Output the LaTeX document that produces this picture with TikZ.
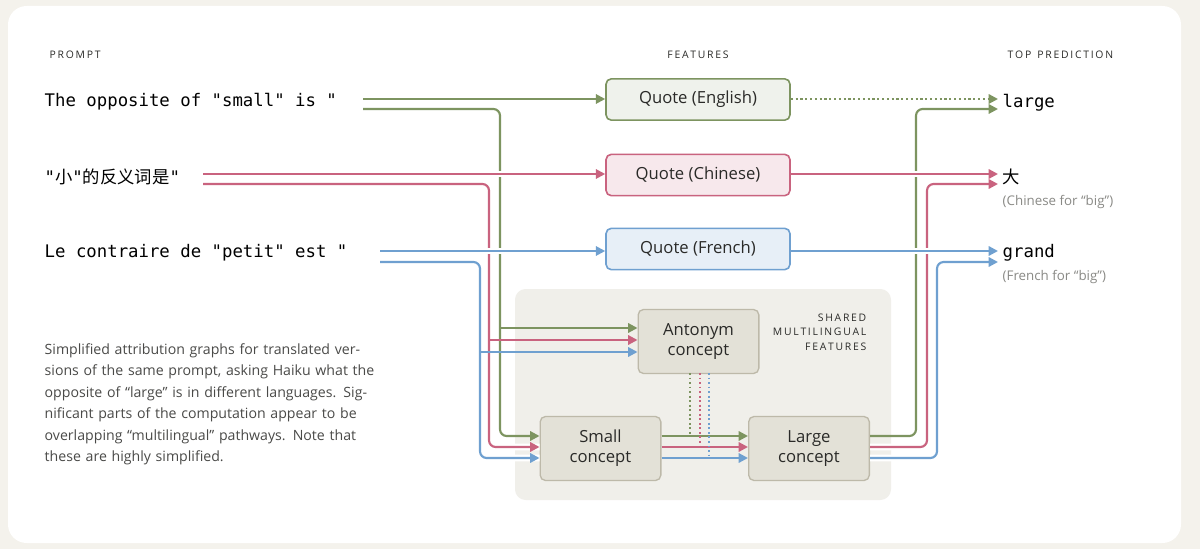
\documentclass[tikz,border=0pt]{standalone}
\usepackage{fontspec}
\setmainfont{Open Sans}
\newfontfamily\mono{DejaVu Sans Mono}
\newfontfamily\cjk{Noto Sans CJK SC}
\usetikzlibrary{arrows.meta}
\definecolor{gC}{HTML}{7D9460}
\definecolor{pC}{HTML}{C9637F}
\definecolor{bC}{HTML}{6FA0D0}
\definecolor{bgO}{HTML}{F4F2EC}
\definecolor{shared}{HTML}{F0EFEA}
\definecolor{conc}{HTML}{E3E1D7}
\definecolor{concB}{HTML}{BDB9A9}
\definecolor{txt}{HTML}{2A2A28}
\definecolor{grayT}{HTML}{8A8A86}
\tikzset{
 ln/.style={line width=1.6pt, rounded corners=5pt, -{Triangle[length=7pt,width=7pt]}},
 g/.style={ln, draw=gC}, p/.style={ln, draw=pC}, b/.style={ln, draw=bC},
 gap/.style={preaction={draw=white, line width=5pt, -}},
 quote/.style={rounded corners=4pt, line width=1.2pt, minimum width=138pt, minimum height=31pt, font=\fontsize{12.5}{14}\selectfont, text=txt},
 concept/.style={rounded corners=4pt, line width=1pt, draw=concB, fill=conc, minimum width=90.5pt, minimum height=48pt, align=center, font=\fontsize{12.5}{15}\selectfont, text=txt},
 hdr/.style={font=\fontsize{7.8}{9}\selectfont, text=txt, anchor=west},
 prm/.style={font=\mono\fontsize{13}{15}\selectfont, text=black, anchor=west},
 outp/.style={font=\mono\fontsize{13}{15}\selectfont, text=black, anchor=west},
 sub/.style={font=\fontsize{10}{12}\selectfont, text=grayT, anchor=west},
}
\begin{document}
\begin{tikzpicture}[x=0.75pt,y=-0.75pt]
\useasboundingbox (0,0) rectangle (1200,549);
\fill[bgO] (0,0) rectangle (1200,549);
\fill[white, rounded corners=14pt] (8,6) rectangle (1181,543);
\fill[shared, rounded corners=8pt] (515,289) rectangle (891,500);
\node[align=right, anchor=north east, font=\fontsize{7.8}{11}\selectfont, text=txt] (sh) at (871,309) {S\,H\,A\,R\,E\,D\\M\,U\,L\,T\,I\,L\,I\,N\,G\,U\,A\,L\\F\,E\,A\,T\,U\,R\,E\,S};

% headers
\node[hdr] (h1) at (45,55) {P\,R\,O\,M\,P\,T};
\node[hdr, anchor=center] (h2) at (698,55) {F\,E\,A\,T\,U\,R\,E\,S};
\node[hdr] (h3) at (1003,55) {T\,O\,P\,\ \,P\,R\,E\,D\,I\,C\,T\,I\,O\,N};

% prompts
\node[prm] (pE) at (40,102) {The opposite of "small" is "};
\node[prm] (pC) at (40,177) {{\mono"}{\cjk 小}{\mono"}{\cjk 的反义词是}{\mono"}};
\node[prm] (pF) at (40,253) {Le contraire de "petit" est "};

% features
\node[quote, draw=gC, fill=gC!12] (qE) at (698,99.5) {Quote (English)};
\node[quote, draw=pC, fill=pC!15] (qC) at (698,175) {Quote (Chinese)};
\node[quote, draw=bC, fill=bC!17] (qF) at (698,249) {Quote (French)};
\node[concept] (ant) at (698.5,341.5) {Antonym\\concept};
\node[concept] (sm) at (600.5,448.5) {Small\\concept};
\node[concept] (lg) at (809,448.5) {Large\\concept};

% outputs
\node[outp] (oE) at (998,103) {large};
\node[outp, font=\cjk\fontsize{13}{15}\selectfont] (oC) at (998,177) {大};
\node[sub] (sC) at (998,202) {(Chinese for “big”)};
\node[outp] (oF) at (998,253) {grand};
\node[sub] (sF) at (998,277) {(French for “big”)};

% paragraph
\node[anchor=north west, align=left, text width=250pt, font=\fontsize{10.6}{16.1}\selectfont, text=txt!85] (para) at (40,339)
{Simplified attribution graphs for translated versions of the same prompt, asking Haiku what the opposite of “large” is in different languages. Significant parts of the computation appear to be overlapping “multilingual” pathways. Note that these are highly simplified.};

% verticals from prompts
\draw[g] (363,109) -- (500,109) -- (500,436) -- (sm.west |- 0,436);
\draw[g] (500,328) -- (ant.west |- 0,328);
\draw[p, gap] (203,184) -- (489,184) -- (489,447) -- (sm.west |- 0,447);
\draw[p] (489,340) -- (ant.west |- 0,340);
\draw[b, gap] (380,262) -- (480,262) -- (480,458) -- (sm.west |- 0,458);
\draw[b] (480,352) -- (ant.west |- 0,352);

% verticals to outputs
\draw[g] (lg.east |- 0,436) -- (916,436) -- (916,109) -- (oE.west |- 0,109);
\draw[p, gap] (lg.east |- 0,447) -- (927,447) -- (927,184) -- (oC.west |- 0,184);
\draw[b, gap] (lg.east |- 0,458) -- (937,458) -- (937,262) -- (oF.west |- 0,262);

% horizontals prompt -> quote
\draw[g] (363,99) -- (qE.west |- 0,99);
\draw[p, gap] (203,174) -- (qC.west |- 0,174);
\draw[b, gap] (380,251) -- (qF.west |- 0,251);

% quote -> outputs
\draw[g, dotted, line width=1.6pt, rounded corners=0pt] (qE.east |- 0,99) -- (oE.west |- 0,99);
\draw[p, gap] (qC.east |- 0,174) -- (oC.west |- 0,174);
\draw[b, gap] (qF.east |- 0,251) -- (oF.west |- 0,251);

% small -> large
\draw[g] (sm.east |- 0,436) -- (lg.west |- 0,436);
\draw[p] (sm.east |- 0,447) -- (lg.west |- 0,447);
\draw[b] (sm.east |- 0,458) -- (lg.west |- 0,458);

% antonym dotted
\draw[gC, dotted, line width=1.4pt] (690,373) -- (690,436);
\draw[pC, dotted, line width=1.4pt] (700,373) -- (700,447);
\draw[bC, dotted, line width=1.4pt] (709,373) -- (709,458);
\end{tikzpicture}
\end{document}
